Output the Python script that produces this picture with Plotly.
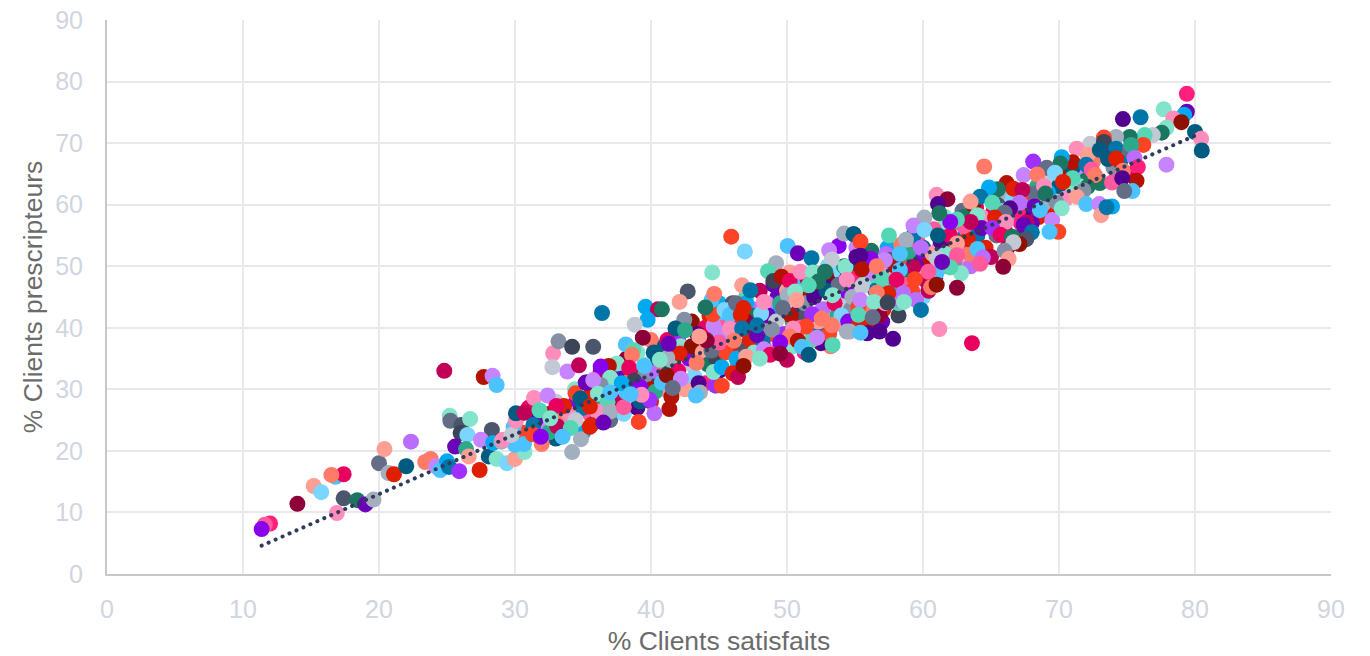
import plotly.graph_objects as go

# Palette of marker shades (referenced by index in the *_teinte arrays)
palette = ["#8A00EC", "#A030FF", "#B96EFF", "#C684FF", "#520090", "#6A00B8",
           "#FF1F7D", "#FF5A9B", "#FF8DBB", "#E8005F", "#C00057", "#8E0038",
           "#FF4326", "#FF7B68", "#FF9E92", "#E01E00", "#B51100", "#8E1000",
           "#1C7560", "#2BA98A", "#55D6B5", "#83E3CB", "#00A9F0", "#4CC3FF",
           "#7AD5FF", "#0076A8", "#005B80", "#3C4557", "#4B566C", "#636E86",
           "#838FA5", "#A3AEBE", "#C2C9D5"]

# Deepest points of the dense band (drawn first, mostly overlapped)
dessous_x = [31,31.5,32,32.5,33,33.5,34,34.5,35,35.5,
             36,36.5,37,37.5,38,38.5,39,39.5,40,40.5,
             41,41.5,42,42.5,43,43.5,44,44.5,45,45.5,
             38.2,39,40,41,42,43,44,45,46,47,
             46.2,46.6,47.1,47.5,47.9,48.4,48.8,49.3,49.7,50.1,
             50.4,50.9,51.2,51.7,52.1,52.4,52.8,53.2,53.7,54.1,
             54.4,54.8,55.2,55.5,55.9,56.3,56.7,57.1,57.4,57.9,
             58.2,58.7,59.1,59.6,60,60.5,60.9,61.3,61.8,62.2,
             62.6,63.1,63.5,64,64.5,65,65.5,66,66.5,67,
             67.5,68,68.5,69,69.5,70,70.5,71,71.5,72,
             47,48,49,50,51,52,53,54,55,56,
             47.2,48.3,49.1,50.4,51.3,52.2,53.2,54.3,55.3,56.4,
             40.2,41.2,42.2,43.4,44.3,45.3,46.4,47.4,48.5,49.5,
             50.2,51.2,52.3,53.4,54.4,55.6,56.6,57.6,58.6,59.7,
             60.2,61.2,62.2,63.2,64.2,65.2,66.2,67.2,68.2,69.2,
             53.5,54.7,56,57,58.2,59,60.4,61,52.5,51.4,
             56.2,57.3,58.4,59.3,60.8,61.6,62.9,63.9,55.1,53.0]
dessous_y = [27,23,24,26,22,25,24,28,23,26,
             30,27,25,32,26,33,30,34,28,31,
             30,36,38,30,34,39,31,38,33,41,
             35,36,38,37,40,41,40,44,44,45,
             37,42,36,43,38,41,39,45,37,46,
             37,43,46,41,39,47,43,48,42,44,
             40,50,43,52,41,50,45,43,53,48,
             42,50,48,54,45,51,48,56,50,53,
             50,55,50,57,52,57,60,56,58,60,
             58,61,58,64,60,63,66,63,65,64,
             44,46,47,46,47,49,49,49,46,47,
             39,37,40,41,36,40,37,46,44,40,
             36,38,37,39,42,40,34,42,44,43,
             49,42,47,45,48,42,47,49,47,51,
             50,53,57,56,53,59,62,57,60,59,
             40.5,43,42,41,44,45,46,47,37.5,37.5,
             52.5,52,53.5,55,56,58,59,59.5,53,50]
dessous_teinte = [9,20,3,16,26,13,31,0,22,7,
                  18,12,29,5,24,10,2,21,15,27,
                  8,25,1,14,32,19,6,30,4,23,
                  11,21,13,26,3,17,9,22,28,20,
                  15,7,24,2,18,30,12,5,25,10,
                  21,0,16,8,29,23,14,4,19,32,
                  13,26,6,31,9,20,3,15,22,1,
                  27,12,18,7,24,11,5,21,30,16,
                  8,25,2,14,19,0,28,10,23,13,
                  4,20,15,32,9,26,12,21,3,18,
                  22,10,5,14,29,8,17,24,1,20,
                  12,2,31,19,6,25,13,0,23,16,
                  26,9,21,4,15,7,30,18,3,22,
                  14,28,11,24,5,12,20,8,25,0,
                  16,3,19,13,22,9,31,6,1,15,
                  8,30,12,5,20,14,10,23,4,31,
                  18,2,13,25,7,21,29,9,3,24]

# Points hidden in the dense band
fond_x = [30.5,31.5,32.5,33,34,35,35.5,36,36.5,37.3,
          37.8,38.2,38.5,39,39.5,40,40.2,40.5,41,41.5,
          42,42.3,42.8,43,43.2,43.8,44.2,44.8,45.1,45.5,
          46,46.3,46.9,47,47.3,47.6,47.9,48.2,48.6,49,
          49.2,49.5,49.8,50.3,50.6,51,51.3,51.5,51.8,52,
          52.3,52.6,52.9,53.1,53.5,53.8,54,54.2,54.5,54.8,
          55,55.3,55.6,55.9,56.2,56.5,56.8,57,57.2,57.5,
          57.8,58,58.3,58.6,58.9,59.2,59.5,59.8,60,60.3,
          60.7,61,61.3,61.7,62,62.3,62.7,63,63.4,63.7,
          64,64.3,64.6,65,65.4,65.8,66.2,66.6,67,67.3,
          67.7,68,68.4,68.8,69.2,69.5,70,70.5,71,71.5,
          72.5,73,73.5,74,74.5,75]
fond_y = [23,25,23,28,26,27,29,25,28,30,
          28,29.5,31.5,27,32,30,33,35,33.5,34,
          33,36,35,37,32,36,34,35,39,36,
          40,35,37,41,38,36,40,38,42,36,
          41,44,39,42,47,40,44,48,38,45,
          41,43,46,39,44,47,42,50,41,45,
          48,40.5,47,43,49,46,42,48,44,51,
          46,50,44.5,47,52,46,50,48,53,47.5,
          52,49,54,52,55,50.5,53,58,52,60,
          55,58,53,61,55,59,53,61,59,55,
          62,57,63,60,62,57.5,65,61,66,63,
          67,63.5,69,66,67,65]
fond_teinte = [12,5,19,32,8,25,15,1,29,21,
               10,23,13,4,30,16,2,26,7,20,
               9,31,0,17,24,14,18,27,3,12,
               6,22,28,11,15,21,8,25,5,13,
               32,19,1,16,23,7,30,10,20,4,
               14,2,26,12,9,29,24,18,0,31,
               6,15,21,13,3,25,11,20,8,28,
               22,16,2,7,19,12,5,32,26,10,
               14,23,4,21,9,30,1,18,13,17,
               25,8,15,2,29,20,11,24,6,27,
               12,5,19,31,22,3,16,8,26,21,
               13,18,0,30,25,9]

# Lower part of the cloud
bas_x = [11.99,11.6,11.37,14.0,15.2,15.75,16.8,17.4,16.5,16.9,
         17.4,18.4,19.0,19.6,20.0,20.7,21.1,20.4,22.0,22.35,
         23.4,23.8,24.2,24.5,25.0,25.15,25.9,27.4,24.8,27.7,
         28.35,28.65,25.2,25.25,26.05,26.0,26.7,26.5,25.6,26.4,
         26.6,28.3,27.5,28.07,28.65,29.4,30,30.7,30.66,30,
         28.4,29,29.1,29.9,29.75,30.07,30.07,30.7,31.35,31.3,
         31.96,31.9,31.4,31.8,32.4,32.8,33.2,34.2,32.75,33.85,
         34.7,35.3,35.75,34.4,34.45,34.8,33.6,33.05,33.1,32.6,
         34.45,34.1,33.5,34.85,34.2,35.5]
bas_y = [8.2,8.0,7.3,11.4,14.3,13.3,15.8,16.2,16.1,9.9,
         12.3,12.0,11.3,12.1,18.0,16.4,16.2,20.3,17.5,21.5,
         18.2,18.7,17.5,16.9,18.3,17.4,16.7,16.9,33.0,32.0,
         32.2,30.7,25.7,24.9,24.2,22.9,25.2,22.6,20.7,20.3,
         19.1,23.4,21.8,19.1,18.7,18.0,18.7,19.8,21.1,21,
         21.3,21.5,21.8,23.9,22.6,24.9,26.1,26.2,24.2,22.7,
         21.1,22.3,28.6,26.6,29.0,35.85,37.8,36.9,33.6,32.9,
         33.9,31.1,36.9,30.0,29.35,28.5,27.3,27.3,24.0,25.3,
         25,23.7,22.3,21.9,19.8,23.9]
bas_teinte = [6,7,0,11,14,24,23,9,13,8,
              28,18,5,31,29,31,15,14,26,2,
              13,13,3,23,22,25,1,15,10,16,
              3,23,21,29,28,27,21,24,5,19,
              14,28,3,26,21,24,14,21,23,23,
              22,31,8,23,32,8,26,10,25,12,
              13,0,8,20,3,8,30,27,32,3,
              10,4,28,21,12,26,15,9,10,21,
              32,20,23,31,31,15]

# Middle part of the cloud
milieu_x = [45.9,46.9,44.5,50.05,50.8,51.8,53.8,54.2,54.9,53.1,
            53.3,49.2,48.6,42.7,42.1,39.6,40.5,40.8,39.75,38.8,
            36.4,39.4,38.15,42.45,41.8,42.5,38.7,38.6,37.5,36.9,
            36.3,36.3,35.2,37,36.3,38.4,39.5,38.75,39.2,37.85,
            35.75,36.1,36.8,37,36.05,37,38,35.5,35.6,36.5,
            39.1,40.25,41.35,41.5,40.3,39.2,39.9,39.3,38.5,40.8,
            41.15,42.2,41.6,43.5,43.6,43.3,44.75,45.2,44.6,45.2,
            46,46.4,47,46.8,43.35,42.1,41.2,41.3,40.65,44.45,
            45,44.1,43.55,44.6,44.55,44.45,44.65,44,45.4,45.8,
            46.25,46.8,46.6,45.8,46.7,46.1,47.8,48.1,47.8,48.9,
            48.3,46.7,47.3,49,49.6,50.2,51,51.9,52.8,52.3,
            51.6,50.05,50.6,50.7,49.7,51.85,53.35,54.3,54.4,55.1,
            52.55,53.3,51.4,50.45,54.4,52.2,53.35,50.2,50.8,51.1,
            51.6,50,49.5,48.3,48.75,48,49.5,55.25]
milieu_y = [54.8,52.4,49,53.3,52.1,51.3,53.3,55.3,55.2,52.6,
            51.1,50.5,49.2,45.9,44.2,43.4,43,43,41.3,40.5,
            42.4,38.4,37.3,41.3,39.9,39.6,36.4,35.6,34.2,33.8,
            32.9,33.7,31.1,31.9,30.7,33.5,33.8,31.4,30.4,31,
            31.5,29.3,27.9,29.5,26.4,26.4,27.1,27.2,24.2,24.6,
            24.7,26.1,26.8,28.8,29.6,28,28.3,29.1,29.2,31.1,
            32.3,31.7,30.2,31,29.5,29,30.6,30.6,32.8,33.6,
            32.6,32,35.3,33.8,34.3,35.8,35.1,37.4,34.8,36.3,
            37.6,37.9,38.6,40.3,42.2,44.5,45.5,43.3,42.9,42.1,
            44,43.2,42.1,39.9,39.9,37.9,38.8,42.3,40.4,39.7,
            44.2,46.9,46.1,47.6,48.3,47.6,49.1,49,49.1,47.5,
            46.9,45.3,45.9,44.5,43.2,42.2,45.3,49.9,47.8,51.5,
            41.5,40.4,40.2,39.9,39.4,38.4,37.2,38.6,37.9,36.9,
            35.6,34.8,37.6,36.5,35.6,35,35.8,43.4]
milieu_teinte = [12,24,21,23,5,25,0,31,26,3,
                 32,31,20,28,14,22,10,18,22,32,
                 25,11,23,30,26,19,20,13,21,16,
                 10,0,5,21,30,9,23,27,0,22,
                 3,21,20,23,8,31,7,15,15,5,
                 12,2,16,16,19,26,1,8,23,23,
                 17,3,29,4,31,23,1,12,21,22,
                 15,10,14,17,13,15,31,5,21,29,
                 7,11,14,3,12,23,13,18,24,23,
                 29,15,15,8,25,13,5,24,25,30,
                 8,14,25,27,16,9,8,21,18,18,
                 20,31,21,14,29,1,21,21,8,4,
                 13,13,12,8,31,3,20,13,16,23,
                 26,10,0,3,9,21,11,12]

# Upper part of the cloud
haut_x = [79.4,77.7,79.4,79.2,78.4,79,74.7,76,80,80.45,
          80.5,77.9,77.9,77.55,76.9,76.3,76.2,75.2,74.2,73.3,
          72.3,71.3,72.1,73.3,73,74.2,75.2,75.3,75.55,73.6,
          74.2,71,72,70.2,70.1,68.1,69.1,69.7,67.4,68.4,
          71,72.4,72.65,74.7,75.8,75.7,73.9,74.65,75.4,74.8,
          72.1,71.8,71.3,72,72.96,73.1,73.9,73.5,64.5,69.95,
          69.3,69.8,70.2,68.2,68.9,69,70.3,66.15,66.65,67.3,
          65.5,64.85,64.2,63.5,65.1,67.1,66.4,66,64,65.3,
          68.2,68.6,67.6,67.4,68,66.1,64.3,65.1,65.7,66.55,
          67.6,67.1,66.65,63.3,63,63.5,62.5,62,64,62.5,
          65,64.4,66,66.3,65.9,64.2,62.5,62.8,62,61,
          61.8,61.1,61.2,60.1,59.3,60.1,61.1,58.75,57.5,54.9,
          55.4,59.85,58.3,57.2,56.15,55.4,61,61.4,59.3,58.3,
          60.4,55.5,56.6,58.05,59.4,55.5,60.6,61,62.5,58.55,
          57.45,56.6,55.4,56.4,57.4,59.5,58.6,59.85,55.25,56.3,
          61.2,63.6,57.8,56.8,55.9,54.6,55.4]
haut_y = [78,75.5,75.1,74.6,74,73.4,73.9,74.2,71.8,70.7,
          68.8,66.5,72.5,71.7,71.3,71.3,69.7,71,71,70.9,
          69.9,69.1,68.1,70.2,68.9,69.1,68.9,69.7,67.6,67.4,
          67.5,66.9,66.5,67.7,66.7,67,66,65.2,64.8,64.9,
          64.3,65.7,64.8,65.5,66.1,63.9,63.6,64.3,62.2,62.2,
          62.9,62.3,61.3,60.1,60.1,58.3,59.7,59.6,66.2,55.6,
          55.6,60.4,59.4,61.8,63,61.8,63.7,63.5,62.6,62.4,
          62.5,62.8,61.3,60.5,60.3,60.3,59.4,58.7,58.3,57.9,
          59.7,59.1,57.1,56.7,55.5,57.2,56.2,56.2,55.1,54.8,
          54.4,53.6,53.9,54.4,56.5,57.2,57.6,57.2,52.8,53.7,
          51.5,51.4,52.5,51.2,49.9,50.4,51.8,48.85,49.8,61.6,
          60.9,60.1,58.6,57.9,56.6,55.9,55,54.3,55,55.2,
          54,53,52,51,51.2,51.7,51.3,50.7,49.9,49.4,
          49.1,49.5,50,47.8,47.9,46.7,46.6,47,46.5,45.6,
          45.6,45.7,44.5,44.2,44.1,44.5,44.2,42.9,42.1,41.7,
          39.8,37.5,38.2,39.4,39.1,39.4,39.2]
haut_teinte = [6,21,5,22,8,17,4,25,26,8,
               26,3,21,18,32,20,12,18,31,12,
               32,8,14,27,26,25,29,19,2,26,
               15,16,25,22,18,1,29,24,3,13,
               20,7,13,13,6,16,7,4,23,29,
               18,30,14,23,3,14,22,25,13,12,
               23,30,21,29,8,18,15,16,15,10,
               18,22,25,14,20,2,4,29,21,15,
               5,23,10,5,25,8,5,1,9,18,
               28,17,32,15,7,10,20,0,23,14,
               10,2,30,14,11,7,7,21,20,8,
               11,4,18,31,3,24,26,31,20,26,
               12,2,23,3,0,4,32,5,10,23,
               7,16,13,9,12,32,13,17,11,2,
               15,13,3,21,27,2,21,25,20,29,
               8,9,4,4,4,31,23]

# Trend line
tendance_x = [11.37, 80.4]
tendance_y = [4.6, 71.6]

axis_ticks = [0, 10, 20, 30, 40, 50, 60, 70, 80, 90]

groups = [(dessous_x, dessous_y, dessous_teinte), (fond_x, fond_y, fond_teinte),
          (bas_x, bas_y, bas_teinte), (milieu_x, milieu_y, milieu_teinte),
          (haut_x, haut_y, haut_teinte)]
for gx, gy, gc in groups:
    assert len(gx) == len(gy) == len(gc), (len(gx), len(gy), len(gc))

xs = dessous_x + fond_x + bas_x + milieu_x + haut_x
ys = dessous_y + fond_y + bas_y + milieu_y + haut_y
cs = [palette[i] for i in dessous_teinte + fond_teinte + bas_teinte + milieu_teinte + haut_teinte]

fig = go.Figure()
fig.add_trace(go.Scatter(x=xs, y=ys, mode="markers", showlegend=False,
                         marker=dict(size=16, color=cs, line=dict(width=0))))
fig.add_trace(go.Scatter(x=tendance_x, y=tendance_y, mode="lines", showlegend=False,
                         line=dict(color="#2F3B58", width=4, dash="0.1px,7.5px")))

axis_common = dict(
    tickmode="array", tickvals=axis_ticks, ticktext=[str(t) for t in axis_ticks],
    range=[0, 90], showgrid=True, gridcolor="#E8E8EF", gridwidth=2,
    showline=True, linecolor="#C8C8C8", linewidth=2, zeroline=False,
    ticks="", automargin=False,
    tickfont=dict(family="Liberation Sans", size=25, color="#D0D5E0"),
)
fig.update_layout(
    width=1370, height=656, autosize=False,
    margin=dict(l=107, r=39, t=20, b=82),
    paper_bgcolor="white", plot_bgcolor="white",
    xaxis=dict(axis_common, ticklabelstandoff=12,
               title=dict(text="% Clients satisfaits", standoff=16,
               font=dict(family="Liberation Sans", size=26.5, color="#6B6B6B"))),
    yaxis=dict(axis_common, ticklabelstandoff=17,
               title=dict(text="% Clients prescripteurs", standoff=5,
               font=dict(family="Liberation Sans", size=26.5, color="#6B6B6B"))),
)
fig.write_html("out.html", config={"displayModeBar": False},
               post_script="document.body.style.margin='0';"
                           "document.documentElement.style.overflow='hidden';"
                           "document.querySelectorAll('.js-line').forEach(function(p){p.style.strokeLinecap='round';});")
